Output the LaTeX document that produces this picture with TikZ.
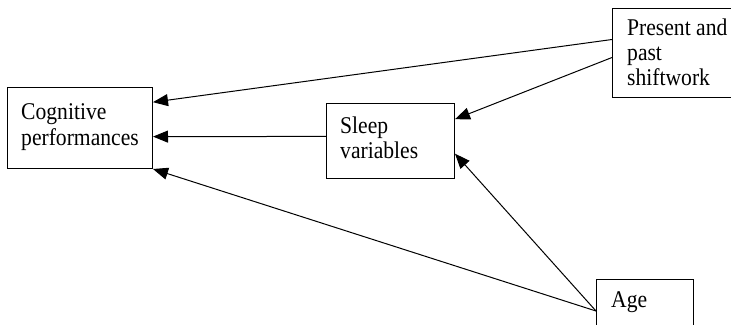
\documentclass[tikz,border=0pt]{standalone}
\usepackage{fontspec}
\setmainfont{Liberation Serif}[FakeStretch=0.9]
\usetikzlibrary{arrows.meta,calc}
\begin{document}
\begin{tikzpicture}[x=1pt,y=-1pt,
  box/.style={draw,line width=1pt,rectangle,inner sep=0pt,anchor=north west},
  lbl/.style={anchor=base west,inner sep=0pt,font=\fontsize{24}{25}\selectfont},
  conn/.style={line width=1pt,-{Triangle[length=15pt,width=12pt]}}]
\useasboundingbox (0,0) rectangle (731,324);
% boxes
\node[box,minimum width=145pt,minimum height=81pt] (cog) at (7,87) {};
\node[box,minimum width=128pt,minimum height=75pt] (sleep) at (326,103) {};
\node[box,minimum width=140pt,minimum height=89pt] (pres) at (612,8) {};
\node[box,minimum width=97pt,minimum height=70pt] (age) at (596,279) {};
% texts
\node[lbl] (t1) at (21,119) {Cognitive};
\node[lbl] (t2) at (21,145) {performances};
\node[lbl] (t3) at (340,133) {Sleep};
\node[lbl] (t4) at (340,158) {variables};
\node[lbl] (t5) at (627,35) {Present and};
\node[lbl] (t6) at (627,60) {past};
\node[lbl] (t7) at (627,85) {shiftwork};
\node[lbl] (t8) at (611,307) {Age};
% connection points
\coordinate (p1) at ($(pres.north west)!0.35!(pres.south west)$);
\coordinate (p2) at ($(pres.north west)!0.55!(pres.south west)$);
\coordinate (c1) at ($(cog.north east)!0.185!(cog.south east)$);
\coordinate (c2) at ($(cog.north east)!0.605!(cog.south east)$);
\coordinate (s1) at ($(sleep.north east)!0.213!(sleep.south east)$);
\coordinate (s2) at ($(sleep.north east)!0.667!(sleep.south east)$);
\coordinate (sw) at ($(sleep.north west)!0.44!(sleep.south west)$);
\coordinate (a1) at ($(age.north west)+(0,32)$);
% connectors
\draw[conn] (p1) -- (c1);
\draw[conn] (p2) -- (s1);
\draw[conn] (sw) -- (c2);
\draw[conn] (a1) -- (s2);
\draw[conn] (a1) -- (cog.south east);
\end{tikzpicture}
\end{document}
